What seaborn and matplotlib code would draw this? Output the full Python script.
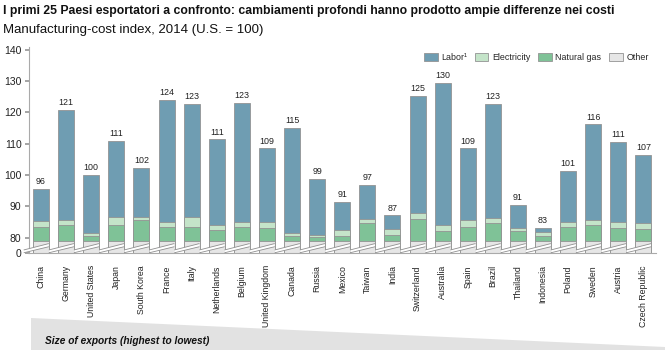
import numpy as np
import pandas as pd
import matplotlib
matplotlib.use('Agg')
import matplotlib.pyplot as plt
from matplotlib.patches import Patch, Polygon
import seaborn as sns

# Manufacturing-cost index 2014 (U.S. = 100), paesi in ordine di export
countries = ['China', 'Germany', 'United States', 'Japan', 'South Korea', 'France', 'Italy',
             'Netherlands', 'Belgium', 'United Kingdom', 'Canada', 'Russia', 'Mexico', 'Taiwan',
             'India', 'Switzerland', 'Australia', 'Spain', 'Brazil', 'Thailand', 'Indonesia',
             'Poland', 'Sweden', 'Austria', 'Czech Republic']
totals = [96, 121, 100, 111, 102, 124, 123, 111, 123, 109, 115, 99, 91, 97, 87, 125, 130,
          109, 123, 91, 83, 101, 116, 111, 107]
other = [79] * 25
natural_gas = [4.5, 5.0, 1.4, 5.0, 6.5, 4.5, 4.3, 3.4, 4.3, 4.0, 1.4, 1.3, 1.6, 5.8, 1.7,
               6.9, 3.0, 4.5, 5.6, 3.2, 1.5, 4.3, 5.1, 4.1, 3.8]
electricity = [1.7, 1.7, 1.1, 2.5, 1.0, 1.6, 3.2, 1.6, 1.8, 2.1, 1.0, 0.7, 1.8, 1.2, 2.0,
               1.9, 2.0, 2.2, 1.7, 0.9, 1.2, 1.6, 1.6, 1.8, 1.9]
labor = [10.3, 35.2, 18.5, 24.5, 15.7, 39.0, 36.2, 27.4, 38.0, 23.4, 33.7, 17.8, 8.9, 10.9,
         4.4, 37.4, 45.4, 22.8, 36.3, 7.4, 1.3, 16.3, 30.5, 25.6, 21.8]

df = pd.DataFrame({'country': countries, 'other': other, 'gas': natural_gas,
                   'elec': electricity, 'labor': labor})
df['top_other'] = df['other']
df['top_gas'] = df['top_other'] + df['gas']
df['top_elec'] = df['top_gas'] + df['elec']
df['top_labor'] = df['top_elec'] + df['labor']

c_labor = '#6f9db2'
c_elec = '#c4e4c9'
c_gas = '#7fc297'
c_other = '#e6e6e6'
c_edge = '#939393'

sns.set_theme(style='white')
plt.rcParams['font.family'] = ['Liberation Sans', 'DejaVu Sans']

fig = plt.figure(figsize=(6.72, 3.51), dpi=100)
ax = fig.add_axes([28.5 / 672, 0.280, (656 - 28.5) / 672, 0.587])

# barre sovrapposte (dalla cima cumulata verso il basso)
for col, colr in [('top_labor', c_labor), ('top_elec', c_elec),
                  ('top_gas', c_gas), ('top_other', c_other)]:
    sns.barplot(data=df, x='country', y=col, color=colr, saturation=1, width=0.64,
                edgecolor=c_edge, linewidth=0.6, ax=ax)

BASE = 75.2  # asse spezzato: qui sta lo "0"
ax.set_ylim(BASE, 141)
ax.set_xlim(-0.5, len(countries) - 0.5)

# etichette dei totali
for i, (t, lab) in enumerate(zip(df['top_labor'], totals)):
    ax.text(i, t + 0.9, str(lab), ha='center', va='bottom', fontsize=6.4, color='#222222')

# segni di interruzione sulle barre
for i in range(len(countries)):
    x0, x1 = i - 0.68, i + 0.30
    poly = Polygon([(x0, BASE), (x1, 77.1), (x1, 78.1), (x0, 76.1)], closed=True,
                   facecolor='white', edgecolor='none', zorder=5, clip_on=False)
    ax.add_patch(poly)
    ax.plot([x0, x1], [BASE, 77.1], color='#8f8f8f', lw=0.6, zorder=6, clip_on=False)
    ax.plot([x0, x1], [76.1, 78.1], color='#8f8f8f', lw=0.6, zorder=6, clip_on=False)

ax.set_yticks([BASE, 80, 90, 100, 110, 120, 130, 140])
ax.set_yticklabels(['0', '80', '90', '100', '110', '120', '130', '140'])
ax.set_xticks(range(len(countries)))
ax.set_xticklabels(countries, rotation=90, fontsize=6.3, color='#222222')
ax.set_xticks(np.arange(len(countries)) + 0.5, minor=True)
ax.tick_params(axis='x', which='major', length=0, pad=9)
ax.tick_params(axis='x', which='minor', length=3, color='#999999', direction='out')
ax.tick_params(axis='y', length=3, color='#999999', labelsize=7.5, labelcolor='#222222', pad=2,
               left=True)
ax.set_xlabel('')
ax.set_ylabel('')
for s in ['top', 'right']:
    ax.spines[s].set_visible(False)
for s in ['left', 'bottom']:
    ax.spines[s].set_color('#aaaaaa')
    ax.spines[s].set_linewidth(0.8)

handles = [Patch(facecolor=c_labor, edgecolor=c_edge, lw=0.6, label='Labor¹'),
           Patch(facecolor=c_elec, edgecolor=c_edge, lw=0.6, label='Electricity'),
           Patch(facecolor=c_gas, edgecolor=c_edge, lw=0.6, label='Natural gas'),
           Patch(facecolor=c_other, edgecolor=c_edge, lw=0.6, label='Other')]
fig.legend(handles=handles, loc='center right', bbox_to_anchor=(0.977, 0.835), ncol=4,
           frameon=False, fontsize=6.4, handlelength=1.5, handleheight=1.0,
           columnspacing=0.9, handletextpad=0.4)

fig.text(3 / 672, 1 - 11 / 351, 'I primi 25 Paesi esportatori a confronto: cambiamenti profondi '
         'hanno prodotto ampie differenze nei costi', fontweight='bold',
         fontsize=8.8, va='center', ha='left', color='#111111')
fig.text(3 / 672, 1 - 30 / 351, 'Manufacturing-cost index, 2014 (U.S. = 100)',
         fontsize=9.5, va='center', ha='left', color='#111111')

# cuneo "dimensione export"
wedge = Polygon([(31 / 672, 1 - 318 / 351), (665 / 672, 1 - 347 / 351),
                 (665 / 672, 1 - 350 / 351), (31 / 672, 1 - 350 / 351)], closed=True,
                transform=fig.transFigure, facecolor='#e2e2e2', edgecolor='none')
fig.patches.append(wedge)
fig.text(45 / 672, 1 - 341 / 351, 'Size of exports (highest to lowest)', fontsize=7.3,
         fontweight='bold', fontstyle='italic', va='center', ha='left', color='#111111')

fig.savefig('out.png', dpi=100)
